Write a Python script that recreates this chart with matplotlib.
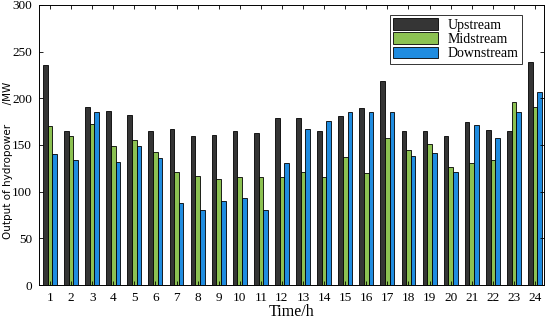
import numpy as np
import matplotlib.pyplot as plt

hours = np.arange(1, 25)
upstream = [236, 165, 191, 186, 182, 165, 167, 160, 161, 165, 163, 179,
            179, 165, 181, 190, 219, 165, 165, 160, 175, 166, 165, 239]
midstream = [170, 160, 173, 149, 155, 143, 121, 117, 114, 116, 116, 116,
             121, 116, 137, 120, 158, 145, 151, 126, 131, 134, 196, 191]
downstream = [140, 134, 185, 132, 149, 136, 88, 80, 90, 93, 80, 131,
              167, 176, 185, 185, 185, 138, 141, 121, 171, 158, 185, 207]

serif = 'Liberation Serif'

fig = plt.figure(figsize=(5.5, 3.23), dpi=100)
ax = fig.add_axes([0.0709, 0.1176, 0.918, 0.867])

w = 0.22
ax.bar(hours - w, upstream, w, color='#353535', edgecolor='k', linewidth=0.6, label='Upstream')
ax.bar(hours, midstream, w, color='#8cc152', edgecolor='k', linewidth=0.6, label='Midstream')
ax.bar(hours + w, downstream, w, color='#1f8ce0', edgecolor='k', linewidth=0.6, label='Downstream')

ax.set_xlim(0.48, 24.42)
ax.set_ylim(0, 300)
ax.set_xticks(hours)
ax.set_yticks(np.arange(0, 301, 50))
ax.tick_params(direction='in', top=True, right=True, length=3, width=0.6, labelsize=9.5, pad=5)
for lbl in ax.get_xticklabels() + ax.get_yticklabels():
    lbl.set_family(serif)
for s in ax.spines.values():
    s.set_linewidth(0.7)

ax.set_xlabel('Time/h', family=serif, fontsize=11.5, labelpad=0)
ax.set_ylabel('Output of hydropower      /MW', fontsize=7.5)
ax.yaxis.set_label_coords(-0.051, 0.446)

leg = ax.legend(loc='upper right', bbox_to_anchor=(0.962, 0.975), fancybox=False, edgecolor='k',
                prop={'family': serif, 'size': 10}, handlelength=3.2, handleheight=0.9,
                labelspacing=0.05, borderpad=0.25, handletextpad=0.7, borderaxespad=0.2)
leg.get_frame().set_linewidth(0.7)

plt.savefig('out.png', dpi=100)
